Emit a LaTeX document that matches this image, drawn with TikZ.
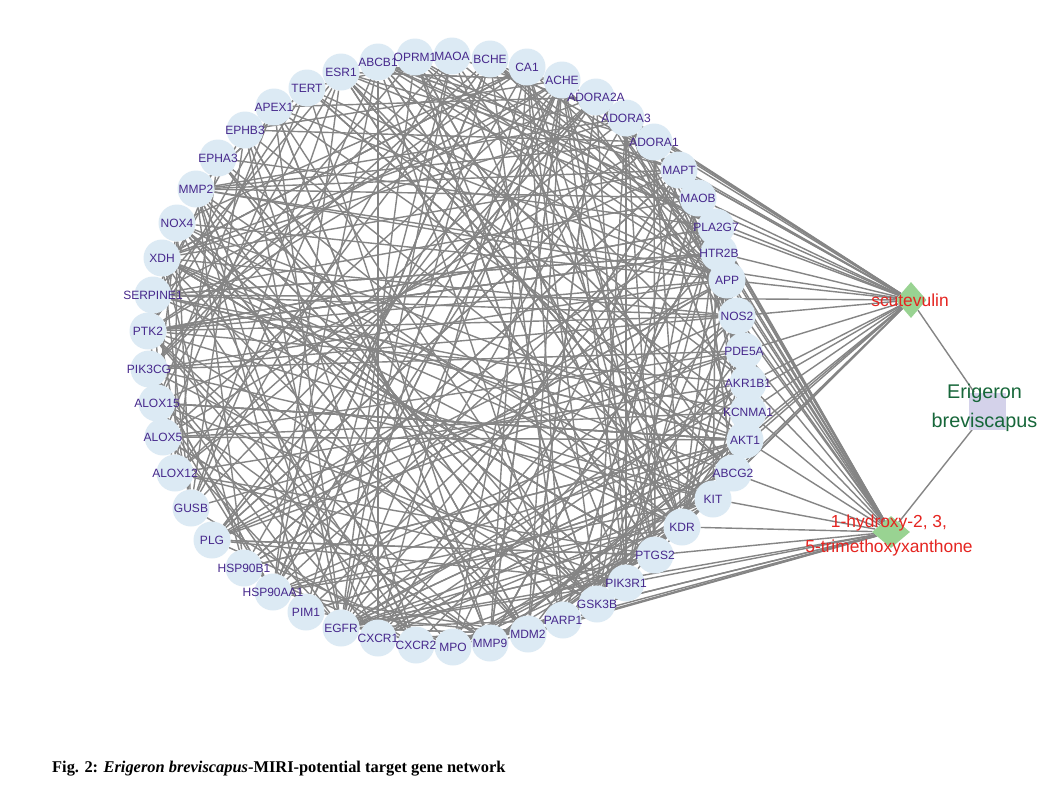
\documentclass[tikz,border=0pt]{standalone}
\usepackage{fontspec}
\setmainfont{Liberation Sans}
\newfontfamily\capfont{Liberation Serif}
\usetikzlibrary{shapes.geometric}
\pgfdeclarelayer{back}
\pgfdeclarelayer{bg}
\pgfsetlayers{back,bg,main}
\definecolor{genefill}{HTML}{DCEAF4}
\definecolor{genetext}{HTML}{46288C}
\definecolor{edgegray}{HTML}{858585}
\definecolor{dgreen}{HTML}{99D392}
\definecolor{lav}{HTML}{D4D2EA}
\definecolor{herbgreen}{HTML}{17673A}
\definecolor{compred}{HTML}{E52521}
\def\genelist{ESR1/341/72, ABCB1/378/62, OPRM1/415/57, MAOA/452/56, BCHE/490/59, CA1/527/67, ACHE/562/80, ADORA2A/596/97, ADORA3/626/118, ADORA1/654/142, MAPT/679/170, MAOB/698/198, PLA2G7/716/227, HTR2B/719/253, APP/727/280, NOS2/737/316, PDE5A/744/351, AKR1B1/748/383, KCNMA1/748/412, AKT1/745/440, ABCG2/733/473, KIT/713/499, KDR/682/527, PTGS2/655/555, PIK3R1/626/583, GSK3B/597/604, PARP1/563/620, MDM2/528/634, MMP9/490/643, MPO/453/647, CXCR2/416/645, CXCR1/378/638, EGFR/341/628, PIM1/306/612, HSP90AA1/273/592, HSP90B1/244/568, PLG/212/540, GUSB/191/508, ALOX12/175/473, ALOX5/163/437, ALOX15/157/403, PIK3CG/149/369, PTK2/148/331, SERPINE1/153/295, XDH/162/258, NOX4/177/223, MMP2/196/189, EPHA3/218/158, EPHB3/245/130, APEX1/274/107, TERT/307/88}
\begin{document}
\begin{tikzpicture}[x=1pt,y=-1pt,
  gene/.style={circle,fill=genefill,minimum size=37pt,inner sep=0pt},
  glabel/.style={text=genetext,font=\fontsize{12}{13}\selectfont,inner sep=0pt},
  edge/.style={draw=edgegray,line width=1.4pt},
  comp/.style={diamond,fill=dgreen,inner sep=0pt},
  clabel/.style={text=compred,font=\fontsize{17.4}{25}\selectfont,align=center,inner sep=0pt}]
\useasboundingbox (0,0) rectangle (1061,788);
\begin{pgfonlayer}{back}
\fill[white] (0,0) rectangle (1061,788);
\end{pgfonlayer}
% gene circles
\foreach \n/\x/\y [count=\i] in \genelist {
  \node[gene] (g\i) at (\x,\y) {};
}
\foreach \n/\x/\y [count=\i] in \genelist {
  \node[glabel] (l\i) at (\x,\y) {\n};
}
% compounds and herb
\node[comp,minimum width=31pt,minimum height=36pt] (scu) at (911,300) {};
\node[comp,minimum width=38pt,minimum height=32pt] (xan) at (891,532) {};
\node[rectangle,fill=lav,minimum size=37pt,inner sep=0pt] (herb) at (987,411) {};
\node[clabel] (scul) at (910,300) {scutevulin};
\node[clabel] (xanl) at (889,535) {1-hydroxy-2, 3,\\5-trimethoxyxanthone};
\node[text=herbgreen,font=\fontsize{19.8}{29}\selectfont,align=center,inner sep=0pt] (herbl) at (984.5,408) {Erigeron\\breviscapus};
\node[anchor=west,inner sep=0pt,font=\capfont\bfseries\fontsize{16.4}{18}\selectfont] (cap) at (52,769) {Fig. 2: \textit{Erigeron breviscapus}-MIRI-potential target gene network};
\begin{pgfonlayer}{bg}
  \draw[edge] (herb) -- (scu);
  \draw[edge] (herb) -- (xan);
  \foreach \t in {1,2,5,7,8,9,10,11,11,12,13,14,15,16,17,18,19,20,21,23,24,28,29,33,44,47} {
    \draw[edge] (scu) -- (g\t);
  }
  \foreach \t in {7,8,9,10,11,11,12,13,14,15,16,17,18,19,20,21,22,23,24,25,26,26,27,28,29,33} {
    \draw[edge] (xan) -- (g\t);
  }
  \pgfmathsetseed{4711}
  \foreach \h/\d in {20/20, 33/15, 47/13, 43/13, 1/11, 23/13, 24/13, 29/11, 2/11, 28/9, 26/9, 25/9, 35/9, 44/9, 15/9, 37/7, 11/7, 22/7, 27/7, 30/5, 32/5, 31/5, 42/7, 40/5, 41/4, 45/5, 46/5, 48/4, 49/4, 50/4, 51/5, 3/4, 4/4, 5/4, 6/4, 7/5, 8/4, 9/4, 10/4, 12/4, 16/5, 17/4, 21/5, 34/4, 36/4, 38/4, 39/4, 13/3, 14/3, 18/3, 19/3} {
    \foreach \k in {1,...,\d} {
      \pgfmathrandominteger{\r}{1}{51}
      \pgfmathtruncatemacro{\t}{ifthenelse(or(abs(\r-\h)<4, abs(\r-\h)>47), mod(\h+20,51)+1, \r)}
      \draw[edge] (g\h) -- (g\t);
    }
  }
\end{pgfonlayer}
\end{tikzpicture}
\end{document}
